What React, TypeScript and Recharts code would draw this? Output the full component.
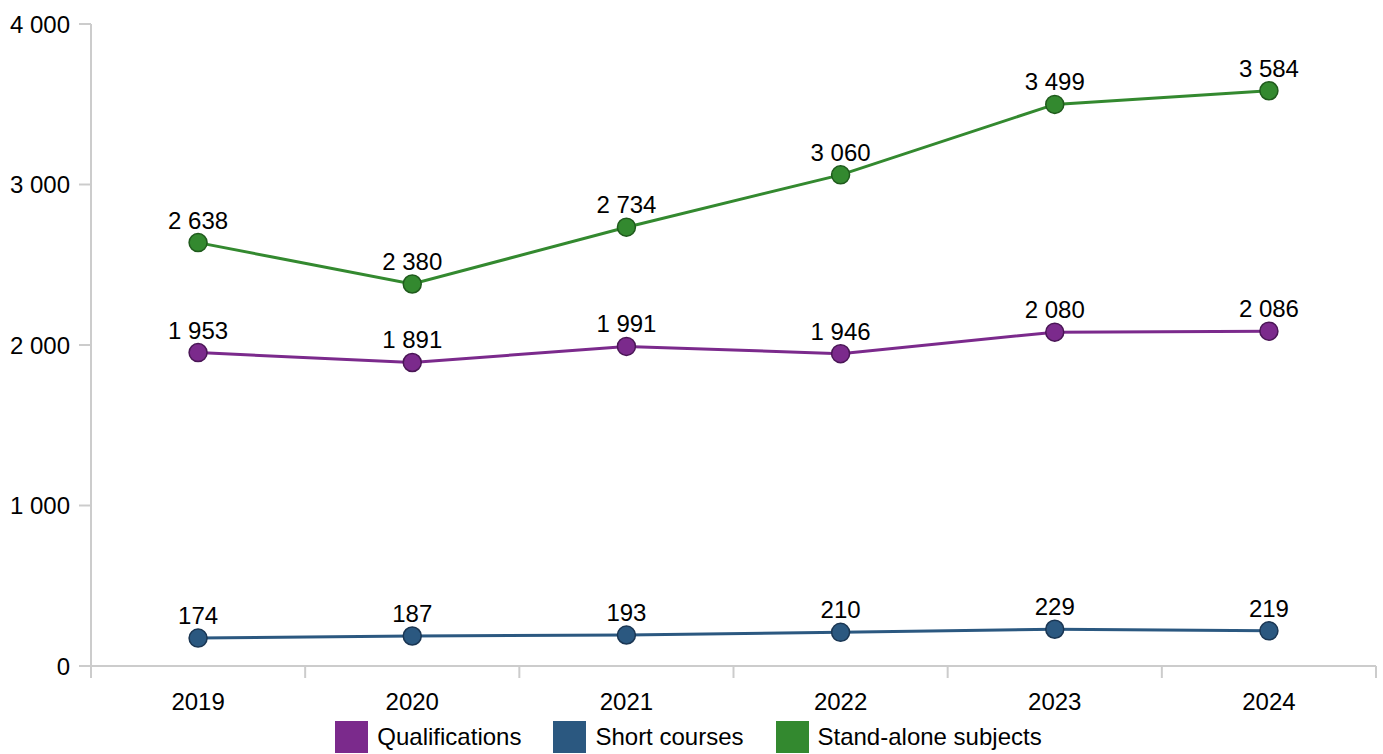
import { LineChart, Line, XAxis, YAxis, Legend, LabelList } from "recharts";

const years = ["2019", "2020", "2021", "2022", "2023", "2024"];
const qualifications = [1953, 1891, 1991, 1946, 2080, 2086];
const shortCourses = [174, 187, 193, 210, 229, 219];
const standAlone = [2638, 2380, 2734, 3060, 3499, 3584];
const yTicks = [0, 1000, 2000, 3000, 4000];

const series = [
  { key: "qualifications", name: "Qualifications", color: "#7b2a8c", dark: "#4a1656" },
  { key: "shortCourses", name: "Short courses", color: "#2b5880", dark: "#1a3653" },
  { key: "standAlone", name: "Stand-alone subjects", color: "#33892f", dark: "#1f5a1c" },
];

const data = years.map((year, i) => ({
  year,
  qualifications: qualifications[i],
  shortCourses: shortCourses[i],
  standAlone: standAlone[i],
}));

const W = 1383;
const H = 754;
const M = { top: 24, right: 7, left: 0, bottom: 0 };
const Y_W = 91;
const X_H = 88;
const PLOT_W = W - M.left - M.right - Y_W;
const PLOT_BOTTOM = H - M.bottom - X_H;
const AXIS = "#cccccc";
const FONT = "'Liberation Sans', Arial, sans-serif";

const fmt = (v: number) => String(v).replace(/\B(?=(\d{3})+(?!\d))/g, " ");

function XTick(props: any) {
  const { x, payload, index } = props;
  const bw = PLOT_W / years.length;
  return (
    <g>
      <line x1={x - bw / 2} x2={x - bw / 2} y1={PLOT_BOTTOM} y2={PLOT_BOTTOM + 12} stroke={AXIS} strokeWidth={2} />
      {index === years.length - 1 && (
        <line x1={x + bw / 2} x2={x + bw / 2} y1={PLOT_BOTTOM} y2={PLOT_BOTTOM + 12} stroke={AXIS} strokeWidth={2} />
      )}
      <text x={x} y={PLOT_BOTTOM + 44} textAnchor="middle" fill="#000" fontSize={24}>
        {payload.value}
      </text>
    </g>
  );
}

function LegendBox() {
  return (
    <div
      style={{
        display: "flex",
        justifyContent: "center",
        alignItems: "center",
        gap: 32,
        fontSize: 24,
        fontFamily: FONT,
        color: "#000",
      }}
    >
      {series.map((s) => (
        <div key={s.key} style={{ display: "flex", alignItems: "center", gap: 9 }}>
          <div style={{ width: 33, height: 32, background: s.color }} />
          <span>{s.name}</span>
        </div>
      ))}
    </div>
  );
}

export default function App() {
  return (
    <div style={{ position: "absolute", left: 0, top: 0, fontFamily: FONT }}>
      <LineChart width={W} height={H} data={data} margin={M}>
        <XAxis
          dataKey="year"
          scale="band"
          interval={0}
          height={X_H}
          tickLine={false}
          axisLine={{ stroke: AXIS, strokeWidth: 2 }}
          tick={(p: any) => <XTick {...p} />}
        />
        <YAxis
          width={Y_W}
          domain={[0, 4000]}
          ticks={yTicks}
          tickFormatter={fmt}
          tickSize={12}
          tickMargin={9}
          axisLine={{ stroke: AXIS, strokeWidth: 2 }}
          tickLine={{ stroke: AXIS, strokeWidth: 2 }}
          tick={{ fill: "#000", fontSize: 24 }}
        />
        <Legend
          verticalAlign="middle"
          layout="horizontal"
          wrapperStyle={{ top: 721, left: -3, width: W }}
          content={() => <LegendBox />}
        />
        {series.map((s) => (
          <Line
            key={s.key}
            dataKey={s.key}
            name={s.name}
            stroke={s.color}
            strokeWidth={3}
            dot={{ r: 9, fill: s.color, stroke: s.dark, strokeWidth: 1.5 }}
            activeDot={false}
            isAnimationActive={false}
          >
            <LabelList
              dataKey={s.key}
              content={(p: any) => (
                <text x={p.x} y={p.y - 14} textAnchor="middle" fill="#000" fontSize={24}>
                  {fmt(p.value)}
                </text>
              )}
            />
          </Line>
        ))}
      </LineChart>
    </div>
  );
}
